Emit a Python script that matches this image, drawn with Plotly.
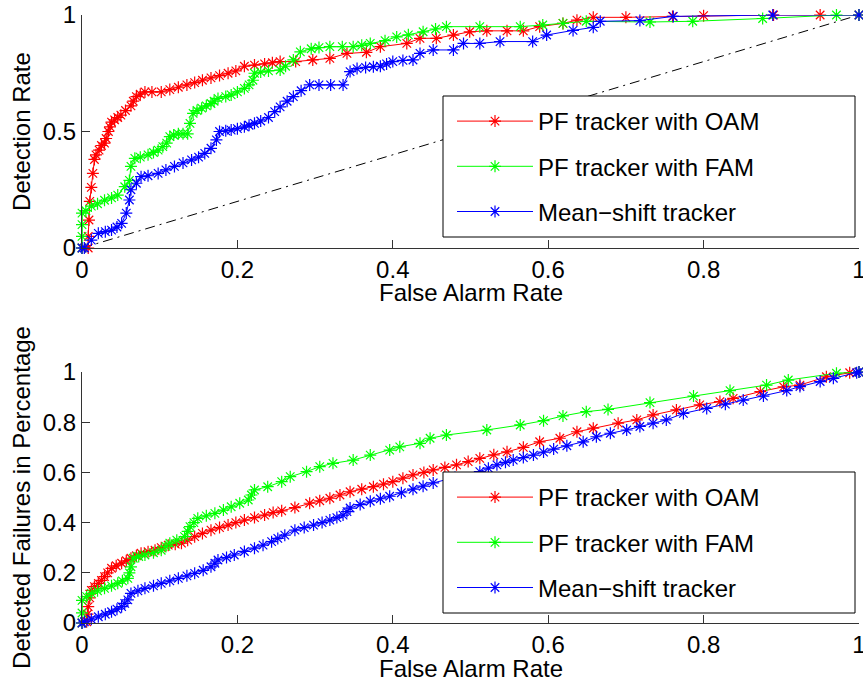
import plotly.graph_objects as go

W, H = 863, 678

labels = ["PF tracker with OAM", "PF tracker with FAM", "Mean\u2212shift tracker"]
colors = ["#FF0000", "#00FF00", "#0000FF"]

# ---- Top panel: Detection Rate vs False Alarm Rate, (x, y)
roc_oam = [(0, 0), (0.008, 0), (0.008, 0.05), (0.009, 0.12), (0.01, 0.2), (0.012, 0.26), (0.014, 0.32),
           (0.016, 0.38), (0.018, 0.40), (0.022, 0.42), (0.025, 0.44), (0.029, 0.45), (0.031, 0.47),
           (0.034, 0.5), (0.036, 0.52), (0.038, 0.54), (0.042, 0.55), (0.046, 0.56), (0.05, 0.57),
           (0.056, 0.59), (0.063, 0.61), (0.066, 0.63), (0.07, 0.65), (0.075, 0.66), (0.081, 0.67),
           (0.09, 0.67), (0.102, 0.67), (0.113, 0.68), (0.124, 0.69), (0.135, 0.70), (0.145, 0.71),
           (0.155, 0.72), (0.166, 0.73), (0.177, 0.74), (0.188, 0.75), (0.198, 0.76), (0.209, 0.78),
           (0.222, 0.785), (0.235, 0.79), (0.245, 0.795), (0.255, 0.80), (0.275, 0.80), (0.297, 0.807),
           (0.319, 0.814), (0.341, 0.835), (0.366, 0.84), (0.384, 0.864), (0.418, 0.878), (0.435, 0.90),
           (0.456, 0.90), (0.478, 0.914), (0.499, 0.928), (0.521, 0.932), (0.547, 0.932), (0.568, 0.932),
           (0.589, 0.95), (0.619, 0.964), (0.637, 0.978), (0.658, 0.99), (0.70, 0.99), (0.76, 0.994),
           (0.80, 0.997), (0.89, 1.0), (0.95, 1.0), (1.0, 1.0)]

roc_fam = [(0, 0), (0, 0.05), (0, 0.1), (0, 0.15), (0.005, 0.16), (0.012, 0.18), (0.02, 0.19), (0.029, 0.205),
           (0.038, 0.215), (0.046, 0.227), (0.055, 0.263), (0.061, 0.29), (0.063, 0.35), (0.068, 0.385),
           (0.075, 0.39), (0.085, 0.40), (0.092, 0.41), (0.098, 0.42), (0.104, 0.435), (0.109, 0.45),
           (0.113, 0.478), (0.118, 0.485), (0.124, 0.49), (0.13, 0.49), (0.136, 0.49), (0.139, 0.535),
           (0.143, 0.578), (0.148, 0.59), (0.154, 0.60), (0.16, 0.61), (0.166, 0.62), (0.17, 0.63),
           (0.175, 0.642), (0.185, 0.65), (0.192, 0.657), (0.2, 0.67), (0.209, 0.685), (0.215, 0.70),
           (0.22, 0.72), (0.222, 0.75), (0.23, 0.755), (0.24, 0.76), (0.255, 0.764), (0.262, 0.78),
           (0.272, 0.807), (0.281, 0.842), (0.295, 0.855), (0.305, 0.86), (0.319, 0.864), (0.335, 0.864),
           (0.349, 0.864), (0.36, 0.87), (0.371, 0.878), (0.39, 0.89), (0.405, 0.906), (0.42, 0.915),
           (0.439, 0.928), (0.455, 0.94), (0.469, 0.95), (0.512, 0.95), (0.564, 0.95), (0.593, 0.957),
           (0.619, 0.964), (0.649, 0.973), (0.731, 0.97), (0.786, 0.973), (0.876, 0.985), (0.971, 1.0),
           (1.0, 1.0)]

roc_ms = [(0, 0), (0.003, 0), (0.012, 0.034), (0.021, 0.063), (0.03, 0.07), (0.038, 0.077), (0.045, 0.09),
          (0.051, 0.106), (0.057, 0.15), (0.061, 0.206), (0.063, 0.25), (0.07, 0.278), (0.076, 0.306),
          (0.085, 0.31), (0.098, 0.32), (0.108, 0.335), (0.119, 0.35), (0.13, 0.365), (0.141, 0.378),
          (0.15, 0.39), (0.158, 0.406), (0.166, 0.428), (0.173, 0.464), (0.177, 0.50), (0.185, 0.503),
          (0.192, 0.506), (0.2, 0.512), (0.209, 0.52), (0.215, 0.527), (0.222, 0.535), (0.23, 0.545),
          (0.24, 0.56), (0.248, 0.585), (0.255, 0.606), (0.264, 0.63), (0.272, 0.65), (0.282, 0.675),
          (0.293, 0.70), (0.305, 0.70), (0.32, 0.70), (0.336, 0.70), (0.345, 0.757), (0.354, 0.77),
          (0.365, 0.775), (0.375, 0.778), (0.384, 0.78), (0.392, 0.79), (0.40, 0.80), (0.413, 0.805),
          (0.426, 0.807), (0.435, 0.835), (0.452, 0.85), (0.478, 0.85), (0.491, 0.878), (0.512, 0.878),
          (0.538, 0.886), (0.58, 0.886), (0.598, 0.914), (0.632, 0.934), (0.658, 0.947), (0.667, 0.973),
          (0.718, 0.976), (0.761, 0.994), (0.889, 1.0), (1.0, 1.0)]

chance_x = [0, 1]
chance_y = [0, 1]

# ---- Bottom panel: Detected Failures in Percentage vs False Alarm Rate
det_oam = [(0, 0), (0.006, 0.005), (0.007, 0.035), (0.008, 0.065), (0.01, 0.1), (0.012, 0.13), (0.016, 0.145),
           (0.021, 0.158), (0.025, 0.17), (0.029, 0.185), (0.033, 0.2), (0.038, 0.218), (0.044, 0.228),
           (0.051, 0.238), (0.057, 0.248), (0.063, 0.258), (0.07, 0.268), (0.076, 0.278), (0.085, 0.284),
           (0.094, 0.29), (0.102, 0.30), (0.111, 0.31), (0.12, 0.314), (0.128, 0.318), (0.136, 0.33),
           (0.145, 0.344), (0.155, 0.357), (0.166, 0.37), (0.177, 0.38), (0.188, 0.39), (0.198, 0.40),
           (0.209, 0.41), (0.222, 0.42), (0.235, 0.43), (0.246, 0.44), (0.257, 0.447), (0.274, 0.46),
           (0.293, 0.477), (0.306, 0.487), (0.319, 0.497), (0.332, 0.51), (0.345, 0.523), (0.36, 0.533),
           (0.375, 0.543), (0.388, 0.553), (0.40, 0.563), (0.413, 0.577), (0.426, 0.59), (0.44, 0.60),
           (0.452, 0.61), (0.467, 0.62), (0.482, 0.63), (0.497, 0.643), (0.512, 0.656), (0.53, 0.67),
           (0.547, 0.682), (0.568, 0.70), (0.589, 0.722), (0.615, 0.736), (0.637, 0.762), (0.658, 0.776),
           (0.69, 0.796), (0.714, 0.809), (0.735, 0.829), (0.765, 0.849), (0.795, 0.869), (0.821, 0.882),
           (0.838, 0.895), (0.873, 0.922), (0.903, 0.941), (0.924, 0.948), (0.958, 0.981), (0.988, 0.997),
           (1.0, 1.0)]

det_fam = [(0, 0), (0, 0.04), (0, 0.09), (0.006, 0.105), (0.012, 0.118), (0.02, 0.128), (0.029, 0.138),
           (0.038, 0.148), (0.046, 0.158), (0.052, 0.168), (0.059, 0.178), (0.061, 0.2), (0.063, 0.224),
           (0.066, 0.258), (0.073, 0.265), (0.081, 0.271), (0.092, 0.28), (0.102, 0.29), (0.108, 0.305),
           (0.113, 0.318), (0.122, 0.33), (0.132, 0.344), (0.136, 0.365), (0.139, 0.384), (0.144, 0.40),
           (0.149, 0.417), (0.16, 0.427), (0.171, 0.437), (0.182, 0.45), (0.192, 0.463), (0.203, 0.477),
           (0.214, 0.49), (0.218, 0.51), (0.222, 0.53), (0.239, 0.543), (0.257, 0.563), (0.268, 0.583),
           (0.289, 0.603), (0.306, 0.623), (0.323, 0.636), (0.349, 0.649), (0.371, 0.669), (0.396, 0.689),
           (0.409, 0.702), (0.435, 0.716), (0.448, 0.736), (0.469, 0.749), (0.521, 0.769), (0.564, 0.789),
           (0.594, 0.806), (0.619, 0.825), (0.649, 0.842), (0.677, 0.851), (0.731, 0.878), (0.787, 0.904),
           (0.834, 0.926), (0.881, 0.948), (0.909, 0.968), (0.971, 0.995), (1.0, 1.0)]

det_ms = [(0, 0), (0.003, 0.005), (0.012, 0.015), (0.021, 0.025), (0.03, 0.035), (0.038, 0.045), (0.045, 0.055),
          (0.051, 0.065), (0.055, 0.078), (0.059, 0.092), (0.063, 0.118), (0.072, 0.128), (0.081, 0.138),
          (0.092, 0.148), (0.102, 0.158), (0.113, 0.168), (0.124, 0.178), (0.135, 0.188), (0.145, 0.198),
          (0.156, 0.21), (0.166, 0.224), (0.171, 0.238), (0.175, 0.251), (0.186, 0.261), (0.196, 0.271),
          (0.209, 0.285), (0.222, 0.298), (0.233, 0.31), (0.244, 0.324), (0.252, 0.337), (0.261, 0.35),
          (0.274, 0.37), (0.286, 0.38), (0.298, 0.39), (0.309, 0.40), (0.319, 0.41), (0.328, 0.42),
          (0.336, 0.43), (0.341, 0.444), (0.345, 0.458), (0.358, 0.472), (0.371, 0.485), (0.384, 0.495),
          (0.396, 0.505), (0.411, 0.519), (0.426, 0.533), (0.439, 0.545), (0.452, 0.558), (0.48, 0.58),
          (0.512, 0.603), (0.523, 0.617), (0.534, 0.63), (0.545, 0.64), (0.555, 0.649), (0.568, 0.659),
          (0.581, 0.669), (0.594, 0.681), (0.607, 0.693), (0.624, 0.706), (0.645, 0.722), (0.662, 0.742),
          (0.68, 0.756), (0.701, 0.769), (0.718, 0.783), (0.735, 0.796), (0.752, 0.809), (0.774, 0.835),
          (0.804, 0.855), (0.828, 0.872), (0.851, 0.888), (0.877, 0.904), (0.907, 0.926), (0.924, 0.942),
          (0.95, 0.962), (0.967, 0.975), (0.997, 0.997), (1.0, 1.0)]

x_ticks = [0, 0.2, 0.4, 0.6, 0.8, 1]
top_y_ticks = [0, 0.5, 1]
bot_y_ticks = [0, 0.2, 0.4, 0.6, 0.8, 1]

FONT = "Liberation Sans, Arial, sans-serif"

fig = go.Figure()

fig.add_trace(go.Scatter(x=chance_x, y=chance_y, mode="lines",
                         line=dict(color="black", width=1, dash="10px,5px,2px,5px"),
                         showlegend=False, xaxis="x", yaxis="y", hoverinfo="skip"))


def add_series(pts, i, xa, ya, leg):
    xs = [p[0] for p in pts]
    ys = [p[1] for p in pts]
    fig.add_trace(go.Scatter(x=xs, y=ys, mode="lines+markers", name=labels[i],
                             line=dict(color=colors[i], width=1),
                             marker=dict(symbol="asterisk-open", size=10,
                                         line=dict(color=colors[i], width=1.2)),
                             cliponaxis=False, xaxis=xa, yaxis=ya,
                             legend=leg, legendgroup="%s%d" % (leg, i)))


for i, pts in enumerate([roc_oam, roc_fam, roc_ms]):
    add_series(pts, i, "x", "y", "legend")
for i, pts in enumerate([det_oam, det_fam, det_ms]):
    add_series(pts, i, "x2", "y2", "legend2")

xd = [82 / W, 859 / W]
top_dom = [1 - 248 / H, 1 - 15 / H]
bot_dom = [1 - 623 / H, 1 - 372 / H]

axis_common = dict(range=[0, 1], showgrid=False, zeroline=False, showline=True,
                   linecolor="#333333", linewidth=1, ticks="inside", ticklen=8,
                   tickcolor="#333333", tickwidth=1, mirror=False,
                   tickfont=dict(family=FONT, size=24, color="black"),
                   ticklabeloverflow="allow",
                   automargin=False, fixedrange=True)

leg_common = dict(xanchor="left", yanchor="top", bgcolor="rgba(0,0,0,0)", borderwidth=0,
                  itemwidth=76, traceorder="grouped", tracegroupgap=11,
                  font=dict(family=FONT, size=24, color="black"))

fig.update_layout(
    width=W, height=H, margin=dict(l=0, r=0, t=0, b=0),
    paper_bgcolor="white", plot_bgcolor="white",
    font=dict(family=FONT, size=24, color="black"),
    xaxis=dict(domain=xd, anchor="y", tickvals=x_ticks, **axis_common),
    yaxis=dict(domain=top_dom, anchor="x", tickvals=top_y_ticks,
               title=dict(text="Detection Rate", standoff=5, font=dict(size=24)), **axis_common),
    xaxis2=dict(domain=xd, anchor="y2", tickvals=x_ticks, **axis_common),
    yaxis2=dict(domain=bot_dom, anchor="x2", tickvals=bot_y_ticks,
                title=dict(text="Detected Failures in Percentage", standoff=5, font=dict(size=24)), **axis_common),
    legend=dict(x=452 / W, y=1 - 99 / H, **leg_common),
    legend2=dict(x=452 / W, y=1 - 475 / H, **leg_common),
    annotations=[
        dict(text="False Alarm Rate", xref="paper", yref="paper", x=(82 + 859) / 2 / W, y=1 - 292.5 / H,
             xanchor="center", yanchor="middle", showarrow=False, font=dict(family=FONT, size=24, color="black")),
        dict(text="False Alarm Rate", xref="paper", yref="paper", x=(82 + 859) / 2 / W, y=1 - 668 / H,
             xanchor="center", yanchor="middle", showarrow=False, font=dict(family=FONT, size=24, color="black")),
    ],
    shapes=[
        dict(type="rect", xref="paper", yref="paper", layer="above",
             x0=443 / W, x1=855 / W, y0=1 - 237 / H, y1=1 - 96 / H,
             line=dict(color="black", width=1), fillcolor="white"),
        dict(type="rect", xref="paper", yref="paper", layer="above",
             x0=443 / W, x1=855 / W, y0=1 - 613 / H, y1=1 - 472 / H,
             line=dict(color="black", width=1), fillcolor="white"),
    ],
)

fig.write_html("out.html")
